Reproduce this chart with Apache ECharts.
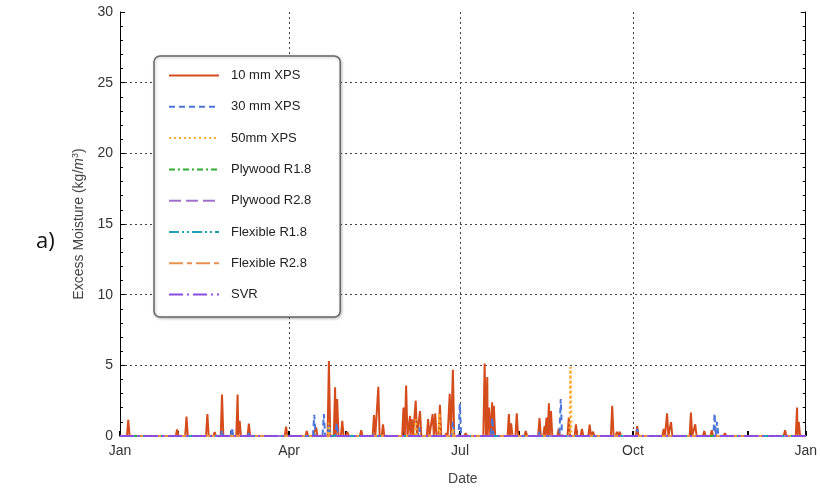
<!DOCTYPE html>
<html>
<head>
<meta charset="utf-8">
<style>
  html, body { margin: 0; padding: 0; background: #fff; }
  #chart { width: 820px; height: 491px; }
</style>
<script src="https://cdn.jsdelivr.net/npm/echarts/dist/echarts.min.js"></script>
</head>
<body>
<div id="chart"></div>
<script>
// day of year, value (kg/m3)
var xps10 = [[4.4,1.14],[17,0.1],[30.4,0.46],[35.4,1.38],[46.5,1.55],[50.4,0.27],[54.3,2.93],[62.6,2.93],[63.7,1.07],
  [68.6,0.88],[88.4,0.67],[99.4,0.36],[102,0.1],[104.4,0.6],[111.2,5.31],[114.5,3.45],[115.6,2.62],[118.3,1.07],
  [121,0.3],[128.4,0.4],[135.2,1.48],[137.5,3.48],[140,0.83],[150.9,2.02],[152.3,3.57],[154.4,1.43],[155.3,1.2],
  [157.4,2.5],[159.7,1.76],[164,1.2],[166.4,1.55],[167.8,1.6],[170.3,2.21],[173.7,0.2],[175.5,2.98],[177.2,4.69],
  [184,0.2],[194.1,5.12],[195.5,4.17],[196.4,2.02],[198.1,2.38],[199,2.14],[207,1.55],[208.2,0.9],[211.2,1.6],
  [216,0.36],[220,0.1],[223.3,1.26],[226,0.7],[227,1.3],[228.3,2.31],[229.4,1.76],[233.5,0.5],[238.9,1.3],
  [242.7,0.83],[245.9,0.5],[250,0.8],[251.8,0.3],[262,2.14],[264.5,0.3],[266,0.3],[275.3,0.7],[289.4,0.5],
  [291.2,1.6],[293.3,0.98],[303.9,1.65],[306.2,0.83],[311,0.36],[315,0.4],[322,0.2],[354,0.4],[360.4,2.02],[361.3,1.0]];
var xps30 = [[54.3,0.4],[59.6,0.6],[68.6,0.2],[103.4,1.5],[108.5,1.55],[111.2,0.8],[115.4,0.9],[135.2,0.2],
  [159.3,0.6],[177.2,1.0],[180.9,2.3],[198.1,1.3],[223.3,0.3],[234.6,2.62],[275.3,0.5],[316.5,1.6],[317.8,1.0]];
var xps50 = [[111.2,0.9],[157.4,1.2],[170,1.6],[177.2,0.5],[239.8,4.88]];
var plywood18 = [];
var plywood28 = [];
var flexible18 = [];
var flexible28 = [];
var svr = [];

var monthStarts = [0,31,59,90,120,151,181,212,243,273,304,334,365];
var labelDays = [0,90,181,273,365];
var labelNames = ['Jan','Apr','Jul','Oct','Jan'];
var gridDays = [90,181,273];

function spikeLine(list, w) {
  var pts = [[0,0]];
  list.forEach(function (p) {
    pts.push([p[0]-w,0], [p[0],p[1]], [p[0]+w,0]);
  });
  pts.push([365,0]);
  pts.sort(function (a,b) { return a[0]-b[0]; });
  return pts;
}

function mk(name, list, color, dash, width, w) {
  return {
    name: name, type: 'line', xAxisIndex: 0, yAxisIndex: 0,
    symbol: 'none', data: spikeLine(list, w || 0.7),
    lineStyle: { color: color, type: dash, width: width },
    itemStyle: { color: color }
  };
}

var chart = echarts.init(document.getElementById('chart'));
var txt = '#333';
chart.setOption({
  animation: false,
  textStyle: { fontFamily: '"Liberation Sans", Arial, sans-serif' },
  grid: { left: 120, right: 12, top: 12, bottom: 54 },
  graphic: [{
    type: 'text', left: 36, top: 231,
    style: { text: 'a)', font: '22px "Open Sans", sans-serif', fill: '#111' }
  }],
  legend: {
    orient: 'vertical', left: 154, top: 56,
    padding: [13, 29, 16, 14],
    itemWidth: 50, itemHeight: 14, itemGap: 18.3,
    itemStyle: { opacity: 0 },
    backgroundColor: '#fff', borderColor: '#666', borderWidth: 1.5, borderRadius: 6,
    shadowColor: 'rgba(0,0,0,0.25)', shadowBlur: 3, shadowOffsetX: 1, shadowOffsetY: 1,
    textStyle: { fontSize: 13, color: '#222', padding: [0,0,0,7] },
    data: ['10 mm XPS','30 mm XPS','50mm XPS','Plywood R1.8','Plywood R2.8','Flexible R1.8','Flexible R2.8','SVR']
  },
  xAxis: [{
    type: 'value', min: 0, max: 365, position: 'bottom',
    name: 'Date', nameLocation: 'middle', nameGap: 36,
    nameTextStyle: { fontSize: 14, color: '#444' },
    axisLine: { show: true, onZero: false, lineStyle: { color: '#000', width: 1 } },
    axisTick: { show: true, inside: true, length: 5, customValues: monthStarts, lineStyle: { color: '#000', width: 2 } },
    axisLabel: {
      customValues: labelDays, fontSize: 14, color: txt, margin: 8,
      showMinLabel: true, showMaxLabel: true,
      formatter: function (v) { return labelNames[labelDays.indexOf(v)]; }
    },
    splitLine: { show: false }
  }, {
    type: 'value', min: 0, max: 365, position: 'bottom',
    axisLine: { show: false, onZero: false },
    axisTick: { show: false, customValues: gridDays },
    axisLabel: { show: false, customValues: gridDays },
    splitLine: { show: true, lineStyle: { color: '#444', type: [2,3], width: 1 } }
  }],
  yAxis: [{
    type: 'value', min: 0, max: 30, interval: 5, position: 'left',
    name: '{t|Excess Moisture (kg/}{i|m}{s|3}{t|)}',
    nameLocation: 'middle', nameGap: 33,
    nameTextStyle: {
      color: '#444',
      rich: {
        t: { fontSize: 14, color: '#444' },
        i: { fontSize: 14, color: '#444', fontStyle: 'italic' },
        s: { fontSize: 9, color: '#444', verticalAlign: 'top', padding: [0,0,7,0] }
      }
    },
    axisLine: { show: true, onZero: false, lineStyle: { color: '#000', width: 1 } },
    axisTick: { show: true, inside: true, length: 5, lineStyle: { color: '#000' } },
    minorTick: { show: true, splitNumber: 5, length: 3, lineStyle: { color: '#000' } },
    axisLabel: { fontSize: 14, color: txt, margin: 7 },
    splitLine: { show: true, lineStyle: { color: ['#000','#444','#444','#444','#444','#444','rgba(0,0,0,0)'], type: [2,3] } }
  }, {
    type: 'value', min: 0, max: 30, interval: 5, position: 'right',
    axisLine: { show: true, onZero: false, lineStyle: { color: '#000', width: 1 } },
    axisTick: { show: true, inside: true, length: 5, lineStyle: { color: '#000' } },
    minorTick: { show: true, splitNumber: 5, length: 3, lineStyle: { color: '#000' } },
    axisLabel: { show: false },
    splitLine: { show: false }
  }],
  series: [
    mk('10 mm XPS', xps10, '#d44c1c', 'solid', 2),
    mk('30 mm XPS', xps30, '#4c75d9', [6,4], 2),
    mk('50mm XPS', xps50, '#ffaa33', [2,3], 2.5, 0.4),
    mk('Plywood R1.8', plywood18, '#33aa33', [6,3,2,3], 2),
    mk('Plywood R2.8', plywood28, '#a070d0', [12,5], 2),
    mk('Flexible R1.8', flexible18, '#20a0b8', [10,3,2,3,2,3], 2),
    mk('Flexible R2.8', flexible28, '#e89050', [14,4,5,4], 2),
    mk('SVR', svr, '#8a4ee0', [14,4,2,4], 2)
  ]
});
</script>
</body>
</html>
